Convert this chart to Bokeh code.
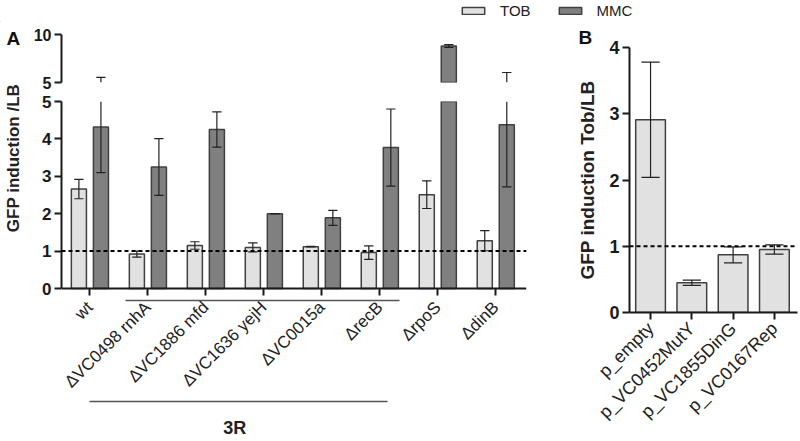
import numpy as np
from math import pi
from bokeh.plotting import figure
from bokeh.models import (Range1d, FixedTicker, LinearAxis, Span, Legend,
                          LegendItem)
from bokeh.layouts import column, row
from bokeh.embed import file_html
from bokeh.resources import INLINE

# ---------------- data ----------------
strains = ["wt", "ΔVC0498 rnhA", "ΔVC1886 mfd", "ΔVC1636 yejH",
           "ΔVC0015a", "ΔrecB", "ΔrpoS", "ΔdinB"]
tob_mean = [2.66, 0.92, 1.15, 1.10, 1.12, 0.96, 2.51, 1.28]
tob_err = [0.26, 0.08, 0.10, 0.12, 0.01, 0.18, 0.37, 0.27]
mmc_mean = [4.32, 3.25, 4.25, 2.00, 1.89, 3.77, 8.80, 4.38]
mmc_err = [1.22, 0.76, 0.47, 0.00, 0.20, 1.03, 0.15, 1.66]

plasmids = ["p_empty", "p_VC0452MutY", "p_VC1855DinG", "p_VC0167Rep"]
b_mean = [2.91, 0.45, 0.87, 0.95]
b_err = [0.87, 0.04, 0.12, 0.07]

group_3r = (1, 5)          # first and last strain of the "3R" group
group_label = "3R"
yticks_lower = [0, 1, 2, 3, 4, 5]
yticks_upper = [5, 10]
yticks_b = [0, 1, 2, 3, 4]
reference_level = 1

# ---------------- style ----------------
FONT = "Liberation Sans"
TOB_FILL = "#e1e1e1"
MMC_FILL = "#808080"
EDGE = "#404040"
AXC = "#1a1a1a"
ERRC = "#222222"
TXT = "#222222"


def base_fig(**kw):
    p = figure(output_backend="svg", toolbar_location=None, **kw)
    p.outline_line_color = None
    p.grid.visible = False
    p.background_fill_color = None
    p.border_fill_color = None
    return p


def style_yaxis(ax, ticks, size):
    ax.ticker = FixedTicker(ticks=ticks)
    ax.axis_line_width = 2
    ax.axis_line_color = AXC
    ax.major_tick_line_width = 2
    ax.major_tick_line_color = AXC
    ax.major_tick_out = 7
    ax.major_tick_in = 0
    ax.minor_tick_line_color = None
    ax.major_label_text_font = FONT
    ax.major_label_text_font_style = "bold"
    ax.major_label_text_font_size = size
    ax.major_label_text_color = AXC
    ax.major_label_standoff = 3


def style_title(t, text, size, offset, standoff):
    t.text = text
    t.align = "left"
    t.offset = offset
    t.standoff = standoff
    t.text_font = FONT
    t.text_font_style = "bold"
    t.text_font_size = size
    t.text_color = "#111111"


def draw_bars(p, x, mean, err, fill, width, cap_w, ymin, ymax):
    """Bars + error bars, cut to the y window [ymin, ymax] of this axis segment."""
    x = np.asarray(x, float)
    mean = np.asarray(mean, float)
    err = np.asarray(err, float)
    lo, hi = mean - err, mean + err
    m = mean > ymin
    p.vbar(x=x[m], top=np.minimum(mean[m], ymax), bottom=ymin, width=width,
           fill_color=fill, line_color=EDGE, line_width=1.5)
    s = (hi > ymin) & (lo < ymax)
    p.segment(x0=x[s], y0=np.clip(lo[s], ymin, ymax), x1=x[s],
              y1=np.clip(hi[s], ymin, ymax), line_color=ERRC, line_width=1.2)
    for v in (lo, hi):
        c = (v >= ymin) & (v <= ymax)
        p.segment(x0=x[c] - cap_w / 2, y0=v[c], x1=x[c] + cap_w / 2, y1=v[c],
                  line_color=ERRC, line_width=1.2)


def blank_axis(**kw):
    base = dict(ticker=FixedTicker(ticks=[]), major_tick_out=0, major_tick_in=0,
                minor_tick_out=0, minor_tick_in=0, major_label_standoff=0)
    base.update(kw)
    return LinearAxis(**base)


xA = np.arange(len(strains), dtype=float)
off, bw, capA = 0.19, 0.26, 0.16
xr = Range1d(-0.49, len(strains) - 0.47)

# ---------------- left strip: panel letter A and the shared y title ----------------
strip = base_fig(width=30, height=418, x_range=Range1d(0, 1), y_range=Range1d(0, 1),
                 x_axis_location=None, min_border_left=22, min_border_right=0,
                 min_border_top=28, min_border_bottom=176)
ys = strip.yaxis[0]
ys.ticker = FixedTicker(ticks=[])
ys.axis_line_color = None
ys.major_tick_out = 0
ys.major_tick_in = 0
ys.minor_tick_out = 0
ys.major_label_standoff = 0
ys.axis_label = "GFP induction /LB"
ys.axis_label_text_font = FONT
ys.axis_label_text_font_style = "bold"
ys.axis_label_text_font_size = "17px"
ys.axis_label_text_color = TXT
ys.axis_label_standoff = 2
style_title(strip.title, "A", "19px", -18, 6)

# ---------------- panel A, upper segment (5..10) ----------------
pu = base_fig(width=530, height=69, x_range=xr, y_range=Range1d(5, 10),
              x_axis_location=None, min_border_left=31, min_border_right=34,
              min_border_top=12, min_border_bottom=9)
style_yaxis(pu.yaxis[0], yticks_upper, "16px")
draw_bars(pu, xA - off, tob_mean, tob_err, TOB_FILL, bw, capA, 5, 10)
draw_bars(pu, xA + off, mmc_mean, mmc_err, MMC_FILL, bw, capA, 5, 10)

# ---------------- panel A, lower segment (0..5) ----------------
# the frame reaches a little below 0 so that the first group line sits under the ticks
pl = base_fig(width=530, height=349, x_range=xr, y_range=Range1d(-0.32, 5),
              min_border_left=31, min_border_right=34,
              min_border_top=10, min_border_bottom=137)
style_yaxis(pl.yaxis[0], yticks_lower, "17px")
pl.yaxis[0].bounds = (0, 5)
draw_bars(pl, xA - off, tob_mean, tob_err, TOB_FILL, bw, capA, 0, 5)
draw_bars(pl, xA + off, mmc_mean, mmc_err, MMC_FILL, bw, capA, 0, 5)
pl.add_layout(Span(location=reference_level, dimension="width", line_color="black",
                   line_dash="4 3", line_width=2))

# axis 1: main x axis at y = 0, ticks only (minor ticks, so no labels)
ax1 = pl.xaxis[0]
ax1.fixed_location = 0
ax1.ticker = FixedTicker(ticks=[], minor_ticks=list(xA))
ax1.axis_line_width = 2
ax1.axis_line_color = AXC
ax1.major_tick_out = 0
ax1.major_tick_in = 0
ax1.minor_tick_out = 7
ax1.minor_tick_in = 0
ax1.minor_tick_line_width = 2
ax1.minor_tick_line_color = AXC
ax1.major_label_standoff = 0

g0, g1 = group_3r
# axis 2: thin group line just under the ticks (at the frame's bottom edge)
pl.add_layout(blank_axis(bounds=(g0 - 0.38, g1 + 0.34), axis_line_color="#555555",
                         axis_line_width=1.3), "below")
# axis 3: rotated strain labels
ax3 = LinearAxis(ticker=FixedTicker(ticks=list(xA)),
                 major_label_overrides={i: s for i, s in enumerate(strains)},
                 major_label_orientation=pi / 4, axis_line_color=None,
                 major_tick_line_color=None, major_tick_out=0, major_tick_in=0,
                 minor_tick_line_color=None, major_label_standoff=4,
                 major_label_text_font=FONT, major_label_text_font_size="17px",
                 major_label_text_color=TXT)
pl.add_layout(ax3, "below")
# axis 4: long group line
pl.add_layout(blank_axis(bounds=(0, g1 + 0.13), axis_line_color="#555555",
                         axis_line_width=1.3), "below")
# axis 5: the group caption, as a single tick label under the middle of the group
mid = (0 + g1) / 2
pl.add_layout(LinearAxis(ticker=FixedTicker(ticks=[mid]),
                         major_label_overrides={mid: group_label},
                         axis_line_color=None, major_tick_line_color=None,
                         major_tick_out=0, major_tick_in=0,
                         minor_tick_line_color=None, major_label_standoff=16,
                         major_label_text_font=FONT,
                         major_label_text_font_style="bold",
                         major_label_text_font_size="18px",
                         major_label_text_color=TXT), "below")

colA = column(pu, pl)

# ---------------- panel B ----------------
xB = np.arange(len(plasmids), dtype=float)
pb = base_fig(width=239, height=418, x_range=Range1d(-0.51, len(plasmids) - 0.44),
              y_range=Range1d(0, 4), min_border_left=69, min_border_right=2,
              min_border_top=25, min_border_bottom=128)
style_title(pb.title, "B", "19px", -51, 0)
style_yaxis(pb.yaxis[0], yticks_b, "18px")
yb = pb.yaxis[0]
yb.axis_label = "GFP induction Tob/LB"
yb.axis_label_text_font = FONT
yb.axis_label_text_font_style = "bold"
yb.axis_label_text_font_size = "19px"
yb.axis_label_text_color = TXT
yb.axis_label_standoff = 8
axb = pb.xaxis[0]
axb.ticker = FixedTicker(ticks=list(xB))
axb.major_label_overrides = {i: s for i, s in enumerate(plasmids)}
axb.major_label_orientation = pi / 4
axb.axis_line_width = 2
axb.axis_line_color = AXC
axb.major_tick_line_width = 2
axb.major_tick_line_color = AXC
axb.major_tick_out = 7
axb.major_tick_in = 0
axb.minor_tick_line_color = None
axb.major_label_text_font = FONT
axb.major_label_text_font_size = "18px"
axb.major_label_text_color = TXT
axb.major_label_standoff = 6
draw_bars(pb, xB, b_mean, b_err, TOB_FILL, 0.72, 0.44, 0, 4)
pb.add_layout(Span(location=reference_level, dimension="width", line_color="black",
                   line_dash="4 3", line_width=2))

# ---------------- legend strip ----------------
pleg = base_fig(width=799, height=22, x_range=Range1d(0, 1), y_range=Range1d(0, 1),
                x_axis_location=None, y_axis_location=None, min_border=0)
# legend swatches only (kept outside the visible range)
r_t = pleg.vbar(x=[-5], top=[-5], width=0.1, fill_color=TOB_FILL,
                line_color=EDGE, line_width=1.5)
r_m = pleg.vbar(x=[-5], top=[-5], width=0.1, fill_color=MMC_FILL,
                line_color=EDGE, line_width=1.5)
leg = Legend(items=[LegendItem(label="TOB", renderers=[r_t]),
                    LegendItem(label="MMC", renderers=[r_m])],
             orientation="horizontal", location=(459, 3), padding=0, margin=0,
             spacing=25, label_standoff=13, glyph_width=28, glyph_height=9,
             label_height=16, label_text_font=FONT, label_text_font_size="15px",
             label_text_color=TXT, border_line_color=None,
             background_fill_alpha=0)
pleg.add_layout(leg)

layout = column(pleg, row(column(strip), colA, column(pb)))
open("out.html", "w").write(file_html(layout, INLINE))
